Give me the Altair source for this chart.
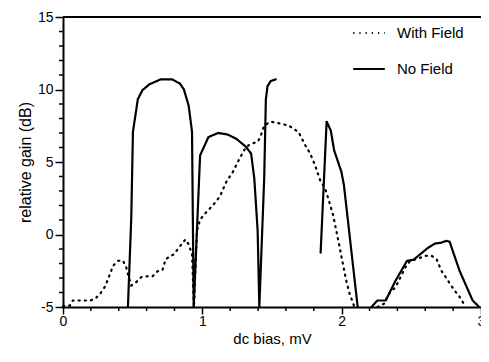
import altair as alt
import pandas as pd

# ---- data ----
nf_a_x = [0.466, 0.49, 0.502, 0.537, 0.57, 0.62, 0.702, 0.784, 0.84, 0.867, 0.902, 0.926, 0.938,
          0.984, 1.044, 1.114, 1.18, 1.244, 1.314, 1.35, 1.373, 1.397, 1.409,
          1.444, 1.456, 1.468, 1.491, 1.527]
nf_a_y = [-5, 1.14, 7.08, 9.33, 9.95, 10.36, 10.7, 10.7, 10.4, 10.02, 8.88, 7.08, -5,
          5.46, 6.72, 7.0, 6.9, 6.6, 6.04, 5.58, 3.87, 0.26, -5,
          3.87, 9.33, 10.24, 10.58, 10.7]
nf_b_x = [1.849, 1.892, 1.922, 1.946, 1.998, 2.016, 2.115]
nf_b_y = [-1.25, 7.79, 7.17, 5.8, 4.33, 3.42, -5]
nf_c_x = [2.214, 2.257, 2.316, 2.387, 2.469, 2.516, 2.622, 2.669, 2.716, 2.751, 2.775, 2.846, 2.94, 2.987]
nf_c_y = [-5, -4.55, -4.55, -3.18, -1.82, -1.74, -0.9, -0.63, -0.56, -0.44, -0.5, -2.5, -4.55, -5]

wf_a_x = [0.0, 0.05, 0.07, 0.14, 0.196, 0.231, 0.266, 0.302, 0.337, 0.36, 0.396, 0.431, 0.454, 0.466,
          0.49, 0.525, 0.56, 0.608, 0.643, 0.678, 0.714, 0.737, 0.796, 0.832, 0.879, 0.902, 0.926,
          0.94, 0.961, 0.984, 1.02, 1.079, 1.126, 1.173, 1.22, 1.267, 1.314, 1.35, 1.397, 1.42,
          1.444, 1.491, 1.55, 1.62, 1.691, 1.739, 1.774, 1.809, 1.845, 1.88, 1.903, 1.938, 1.962,
          1.986, 2.009, 2.033, 2.057, 2.092]
wf_a_y = [-4.95, -4.9, -4.55, -4.55, -4.55, -4.43, -4.09, -3.59, -2.73, -2.15, -1.81, -1.81, -2.27, -2.73,
          -3.52, -3.29, -2.95, -2.88, -2.88, -2.54, -2.45, -1.7, -1.36, -0.9, -0.34, -0.68, -1.36,
          -5, 0.24, 1.03, 1.45, 2.05, 2.62, 3.65, 4.33, 5.24, 6.04, 6.26, 6.38, 6.83,
          7.51, 7.78, 7.67, 7.51, 7.06, 6.15, 5.58, 4.78, 3.76, 3.19, 2.51, 1.37, 0.24,
          -0.9, -2.04, -3.18, -4.09, -5]
wf_b_x = [2.257, 2.304, 2.339, 2.387, 2.422, 2.457, 2.492, 2.539, 2.598, 2.645, 2.681, 2.716, 2.763, 2.81, 2.857, 2.881]
wf_b_y = [-5, -4.77, -4.09, -3.63, -2.95, -2.27, -1.81, -1.7, -1.47, -1.47, -1.7, -2.5, -3.18, -3.86, -4.43, -4.89]

series_names = ["With Field", "No Field"]
x_major = [0, 1, 2, 3]
x_minor = [0.2, 0.4, 0.6, 0.8, 1.2, 1.4, 1.6, 1.8, 2.2, 2.4, 2.6, 2.8]
y_major = [-5, 0, 5, 10, 15]
y_minor = [v for v in range(-5, 16) if v % 5 != 0]

rows = []
def add(series, seg, xs, ys):
    for i, (a, b) in enumerate(zip(xs, ys)):
        rows.append({"series": series, "seg": seg, "idx": i, "x": a, "y": b})

add("No Field", "nfA", nf_a_x, nf_a_y)
add("No Field", "nfB", nf_b_x, nf_b_y)
add("No Field", "nfC", nf_c_x, nf_c_y)
add("With Field", "wfA", wf_a_x, wf_a_y)
add("With Field", "wfB", wf_b_x, wf_b_y)
df = pd.DataFrame(rows)

FONT = "Liberation Sans"
W, H = 418, 290

x_scale = alt.Scale(domain=[0, 3], nice=False, zero=False)
y_scale = alt.Scale(domain=[-5, 15], nice=False, zero=False)

x_axis = alt.Axis(
    values=x_major, format="d",
    tickSize=7, labelFlush=False, labelOverlap=False, labelPadding=0,
    grid=False, domainWidth=2, tickWidth=1.5, domainColor="black", tickColor="black",
    labelColor="black", labelFontSize=14, labelFont=FONT,
    title="dc bias, mV", titleFontSize=15, titleFont=FONT, titleFontWeight="normal",
    titleColor="black", titleY=24, titleBaseline="top",
)
y_axis = alt.Axis(
    values=y_major, labelExpr="toString(datum.value)",
    tickSize=8, labelFlush=False, labelOverlap=False, labelPadding=2,
    grid=False, domainWidth=2, tickWidth=1.5, domainColor="black", tickColor="black",
    labelColor="black", labelFontSize=14, labelFont=FONT,
    title="relative gain (dB)", titleFontSize=16, titleFont=FONT, titleFontWeight="normal",
    titleColor="black", titleX=-30,
)

lines = alt.Chart(df).mark_line(color="black", strokeWidth=2.2, strokeCap="round").encode(
    x=alt.X("x:Q", scale=x_scale, axis=x_axis),
    y=alt.Y("y:Q", scale=y_scale, axis=y_axis),
    strokeDash=alt.StrokeDash(
        "series:N",
        scale=alt.Scale(domain=series_names, range=[[1.2, 5], [1, 0]]),
        legend=alt.Legend(
            orient="none", legendX=289, legendY=-1, title=None,
            symbolType="stroke", symbolSize=1000, symbolStrokeWidth=2,
            symbolStrokeColor="black", labelFontSize=15, labelFont=FONT,
            labelColor="black", labelOffset=11, rowPadding=11,
        ),
    ),
    detail="seg:N",
    order="idx:Q",
)

top = alt.Chart(pd.DataFrame({"y": [15]})).mark_rule(color="black", strokeWidth=2).encode(
    y=alt.Y("y:Q", scale=y_scale, axis=y_axis)
)

x_minor_ticks = alt.Chart(pd.DataFrame({"v": x_minor})).mark_rule(color="black", strokeWidth=1.5).encode(
    x=alt.X("v:Q", scale=x_scale, axis=x_axis),
    y=alt.value(H),
    y2=alt.value(H + 4),
)
y_minor_ticks = alt.Chart(pd.DataFrame({"v": y_minor})).mark_rule(color="black", strokeWidth=1.5).encode(
    y=alt.Y("v:Q", scale=y_scale, axis=y_axis),
    x=alt.value(-4),
    x2=alt.value(0),
)

chart = alt.layer(lines, top, x_minor_ticks, y_minor_ticks).properties(
    width=W, height=H,
    autosize=alt.AutoSizeParams(type="none"),
    padding={"left": 55, "top": 9, "right": 0, "bottom": 40},
    background="white",
).configure_view(stroke=None)

chart.save("out.html", embed_options={"renderer": "svg", "actions": False})
